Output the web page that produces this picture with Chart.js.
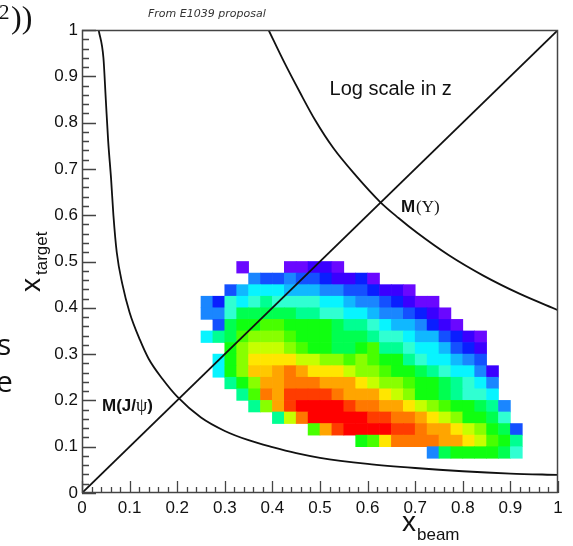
<!DOCTYPE html>
<html><head><meta charset="utf-8">
<script src="https://cdn.jsdelivr.net/npm/chart.js@4.4.1/dist/chart.umd.min.js"></script>
<style>html,body{margin:0;padding:0;background:#fff;overflow:hidden}canvas{display:block}</style>
</head><body>
<canvas id="c" width="573" height="546"></canvas>
<script>
// ---- histogram bins (x_beam, x_target) ----
const binWidth = 0.025;
const xBinLow = [0.250,0.275,0.300,0.325,0.350,0.375,0.400,0.425,0.450,0.475,0.500,0.525,0.550,0.575,0.600,0.625,0.650,0.675,0.700,0.725,0.750,0.775,0.800,0.825,0.850,0.875,0.900];
const yBinLow = [0.475,0.450,0.425,0.400,0.375,0.350,0.325,0.300,0.275,0.250,0.225,0.200,0.175,0.150,0.125,0.100,0.075];
// z level (log scale, palette index 0..19), null = empty bin
const n = null;
const z0475 = [n,n,n,0,n,n,n,0,0,1,1,0,n,n,n,n,n,n,n,n,n,n,n,n,n,n,n];
const z0450 = [n,n,n,n,4,3,3,4,3,3,2,1,1,2,0,n,n,n,n,n,n,n,n,n,n,n,n];
const z0425 = [n,n,3,5,6,6,6,5,5,5,4,4,3,3,2,1,1,0,n,n,n,n,n,n,n,n,n];
const z0400 = [4,2,7,6,7,8,7,7,7,7,6,6,5,4,4,3,2,1,0,0,n,n,n,n,n,n,n];
const z0375 = [4,4,7,9,9,9,9,9,8,8,7,7,6,6,5,4,4,3,2,1,0,n,n,n,n,n,n];
const z0350 = [n,3,9,10,10,11,11,10,10,10,10,9,8,8,7,6,5,5,4,2,1,0,n,n,n,n,n];
const z0325 = [6,8,9,11,12,12,12,11,10,10,10,9,9,9,8,7,7,6,5,5,3,2,1,0,n,n,n];
const z0300 = [n,n,10,12,13,13,13,12,11,10,10,9,9,10,11,8,8,7,6,6,5,3,2,1,n,n,n];
const z0275 = [n,6,10,12,14,14,14,14,13,13,12,12,11,12,11,10,10,8,7,6,6,5,4,3,n,n,n];
const z0250 = [n,6,10,12,15,15,16,17,16,14,14,14,13,12,12,11,10,10,9,8,7,6,6,4,1,n,n];
const z0225 = [n,n,8,10,12,16,16,17,17,17,16,16,16,14,13,12,12,11,10,10,9,8,7,6,4,n,n];
const z0200 = [n,n,n,8,11,17,16,18,18,18,18,17,16,16,16,14,13,12,10,10,9,8,7,7,6,n,n];
const z0175 = [n,n,n,n,8,12,16,18,19,19,19,19,18,17,17,16,16,14,13,12,11,10,10,9,8,4,n];
const z0150 = [n,n,n,n,n,n,8,13,17,19,19,19,19,19,18,18,17,17,16,14,13,12,10,10,9,7,n];
const z0125 = [n,n,n,n,n,n,n,n,n,11,16,18,19,19,19,19,18,18,17,16,16,14,13,12,10,9,3];
const z0100 = [n,n,n,n,n,n,n,n,n,n,n,n,n,10,11,14,17,17,17,17,16,16,14,13,11,10,8];
const z0075 = [n,n,n,n,n,n,n,n,n,n,n,n,n,n,n,n,n,n,n,4,9,10,10,10,10,9,7];
const zRows = [z0475,z0450,z0425,z0400,z0375,z0350,z0325,z0300,z0275,z0250,z0225,z0200,z0175,z0150,z0125,z0100,z0075];

// ---- curves ----
const jpsiX = [0.035,0.045,0.050,0.055,0.061,0.066,0.073,0.085,0.100,0.122,0.140,0.170,0.200,0.250,0.300,0.350,0.400,0.450,0.500,0.600,0.700,0.800,0.900,1.000];
const jpsiY = [1.000,0.940,0.850,0.760,0.680,0.600,0.520,0.450,0.390,0.330,0.290,0.245,0.208,0.163,0.134,0.114,0.099,0.086,0.076,0.063,0.054,0.047,0.042,0.039];
const upsX = [0.392,0.425,0.458,0.490,0.528,0.575,0.626,0.665,0.704,0.770,0.844,0.920,1.000];
const upsY = [1.000,0.930,0.865,0.805,0.745,0.686,0.629,0.594,0.562,0.514,0.469,0.430,0.395];
const diagX = [0,1];
const diagY = [0,1];

// tick labels
const tickValues = [0,0.1,0.2,0.3,0.4,0.5,0.6,0.7,0.8,0.9,1];
const tickLabels = ['0','0.1','0.2','0.3','0.4','0.5','0.6','0.7','0.8','0.9','1'];

// palette (ROOT-like rainbow, violet -> red)
const palette = ['#6a08ff','#3a00ff','#0a1eff','#1450ff','#1a86ff','#10b8ff','#08f4ff','#30ffd2','#00ff92','#00ff50','#10ff10','#48ff00','#88ff00','#c6ff00','#ffe600','#ffc800','#ffa500','#ff7800','#ff3c00','#ff0000'];

const heatPoints = [];
zRows.forEach((row, r) => row.forEach((v, c) => {
  if (v === null) return;
  heatPoints.push({x: xBinLow[c] + binWidth / 2, y: [yBinLow[r], yBinLow[r] + binWidth], v: v});
}));
const toXY = (xs, ys) => xs.map((x, i) => ({x: x, y: ys[i]}));

const SANS = '"Liberation Sans", Arial, sans-serif';
const SERIF = '"Liberation Serif", "Times New Roman", serif';

function labelFor(v) {
  const i = tickValues.findIndex(t => Math.abs(t - v) < 1e-6);
  return i >= 0 ? tickLabels[i] : '';
}

const rootFrame = {
  id: 'rootFrame',
  afterDatasetsDraw(chart) {
    const {ctx, chartArea: a, scales: {x, y}} = chart;
    ctx.save();
    ctx.strokeStyle = '#444';
    ctx.lineWidth = 1.3;
    ctx.beginPath();
    for (let k = 0; k <= 50; k++) {
      const v = k / 50;
      const major = k % 5 === 0;
      const px = Math.round(x.getPixelForValue(v)) + 0.5;
      ctx.moveTo(px, a.bottom);
      ctx.lineTo(px, a.bottom - (major ? 12 : 6));
      const py = Math.round(y.getPixelForValue(v)) + 0.5;
      ctx.moveTo(a.left, py);
      ctx.lineTo(a.left + (major ? 14 : 7), py);
    }
    ctx.stroke();
    ctx.lineWidth = 1.5;
    ctx.strokeRect(a.left + 0.5, a.top + 0.5, a.right - a.left - 1, a.bottom - a.top - 1);
    ctx.restore();
  },
  afterDraw(chart) {
    const {ctx, scales: {x, y}} = chart;
    ctx.save();
    ctx.textBaseline = 'alphabetic';
    ctx.fillStyle = '#111';
    // slide fragments
    ctx.font = '21px ' + SERIF;
    ctx.fillText('2', -1, 19);
    ctx.font = '32px ' + SERIF;
    ctx.fillText('))', 11, 28);
    ctx.font = '30px "Open Sans", sans-serif';
    ctx.fillText('s', -3, 355);
    ctx.fillText('e', -4, 392);
    // caption
    ctx.fillStyle = '#333';
    ctx.font = 'italic 11px "DejaVu Sans", sans-serif';
    ctx.fillText('From E1039 proposal', 148, 17);
    ctx.fillStyle = '#111';
    // in-plot text
    ctx.font = '20px ' + SANS;
    ctx.fillText('Log scale in z', x.getPixelForValue(0.52), y.getPixelForValue(0.86));
    let px = x.getPixelForValue(0.67), py = y.getPixelForValue(0.607);
    ctx.font = 'bold 17px ' + SANS;
    ctx.fillText('M', px, py);
    px += ctx.measureText('M').width;
    ctx.font = '17px ' + SERIF;
    ctx.fillText('(\u03A5)', px + 1, py);
    px = x.getPixelForValue(0.042); py = y.getPixelForValue(0.177);
    ctx.font = 'bold 17px ' + SANS;
    ctx.fillText('M(J/', px, py);
    px += ctx.measureText('M(J/').width;
    ctx.font = '18px ' + SERIF;
    ctx.fillText('\u03C8', px, py);
    px += ctx.measureText('\u03C8').width;
    ctx.font = 'bold 17px ' + SANS;
    ctx.fillText(')', px, py);
    // axis titles
    ctx.font = '28px ' + SANS;
    ctx.fillText('x', 402, 531);
    ctx.font = '17px ' + SANS;
    ctx.fillText('beam', 417, 540);
    ctx.translate(40, 292);
    ctx.rotate(-Math.PI / 2);
    ctx.font = '28px ' + SANS;
    ctx.fillText('x', 0, 0);
    ctx.font = '17px ' + SANS;
    ctx.fillText('target', 17, 7);
    ctx.restore();
  }
};

new Chart(document.getElementById('c'), {
  type: 'bar',
  data: {
    datasets: [
      {
        type: 'bar', data: heatPoints,
        backgroundColor: c => (c.raw ? palette[c.raw.v] : '#fff'),
        borderWidth: 0, barPercentage: 1, categoryPercentage: 1, grouped: false, order: 10
      },
      { type: 'line', data: toXY(jpsiX, jpsiY), borderColor: '#111', borderWidth: 1.8, pointRadius: 0, cubicInterpolationMode: 'monotone', fill: false, order: 1 },
      { type: 'line', data: toXY(upsX, upsY), borderColor: '#111', borderWidth: 1.8, pointRadius: 0, cubicInterpolationMode: 'monotone', fill: false, order: 1 },
      { type: 'line', data: toXY(diagX, diagY), borderColor: '#111', borderWidth: 1.8, pointRadius: 0, fill: false, order: 1 }
    ]
  },
  options: {
    responsive: false, animation: false, devicePixelRatio: 1,
    layout: {padding: {top: 30, right: 15, left: 0, bottom: 0}},
    plugins: {legend: {display: false}, tooltip: {enabled: false}},
    scales: {
      x: {
        type: 'linear', min: 0, max: 1, offset: false,
        grid: {display: false, drawTicks: false}, border: {display: false},
        ticks: {stepSize: 0.1, autoSkip: false, maxRotation: 0, padding: 5, color: '#111',
                font: {family: SANS, size: 17}, callback: v => labelFor(v)},
        afterFit: s => { s.height = 53; }
      },
      y: {
        type: 'linear', min: 0, max: 1,
        grid: {display: false, drawTicks: false}, border: {display: false},
        ticks: {stepSize: 0.1, autoSkip: false, padding: 4, color: '#111',
                font: {family: SANS, size: 17}, callback: v => labelFor(v)},
        afterFit: s => { s.width = 82; }
      }
    }
  },
  plugins: [rootFrame]
});
</script>
</body></html>
